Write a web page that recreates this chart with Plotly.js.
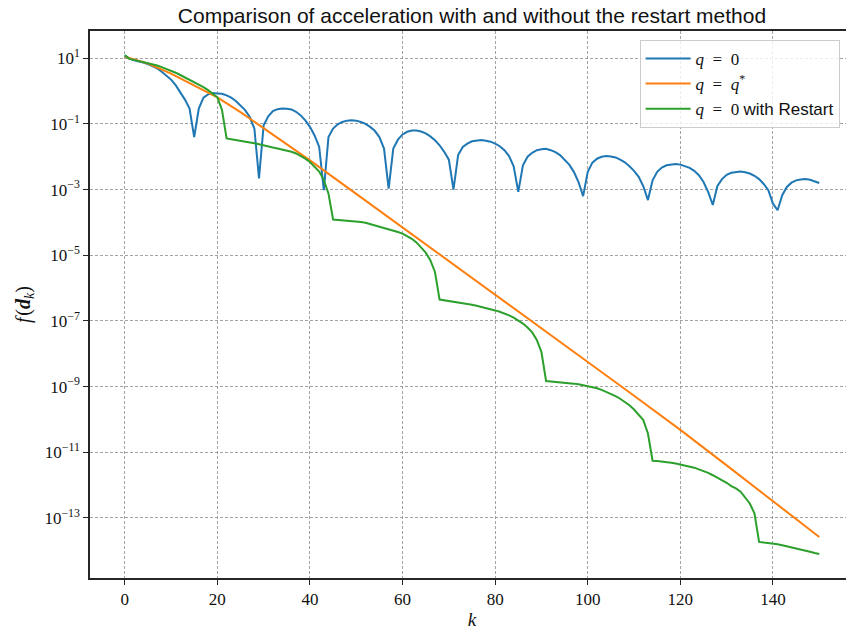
<!DOCTYPE html>
<html>
<head>
<meta charset="utf-8">
<script src="https://cdn.plot.ly/plotly-3.0.1.min.js"></script>
<style>
html,body{margin:0;padding:0;overflow:hidden;background:#fff;}
#chart{width:860px;height:630px;}
</style>
</head>
<body>
<div id="chart"></div>
<script>
// iteration index k = 0..150
const kSteps = Array.from({length: 151}, (_, i) => i);

// log10 f(d_k), q = 0
const blueLog10 = [
 1.09, 0.99, 0.94, 0.91, 0.87, 0.82, 0.76, 0.69, 0.59, 0.48,
 0.35, 0.18, -0.03, -0.26, -0.53, -1.40, -0.53, -0.20, -0.10, -0.06,
 -0.07, -0.08, -0.13, -0.20, -0.30, -0.43, -0.58, -0.79, -1.14, -2.66,
 -1.04, -0.77, -0.61, -0.55, -0.53, -0.54, -0.56, -0.63, -0.74, -0.89,
 -1.09, -1.35, -1.70, -3.02, -1.40, -1.14, -1.01, -0.94, -0.90, -0.89,
 -0.90, -0.94, -1.00, -1.09, -1.21, -1.40, -1.75, -2.97, -1.75, -1.48,
 -1.32, -1.24, -1.20, -1.20, -1.23, -1.29, -1.38, -1.50, -1.65, -1.85,
 -2.09, -3.00, -1.95, -1.70, -1.60, -1.53, -1.50, -1.49, -1.51, -1.54,
 -1.60, -1.68, -1.80, -1.98, -2.29, -3.07, -2.26, -2.00, -1.88, -1.80,
 -1.77, -1.76, -1.80, -1.86, -1.95, -2.09, -2.24, -2.46, -2.77, -3.20,
 -2.46, -2.18, -2.06, -2.00, -1.98, -1.99, -2.02, -2.09, -2.17, -2.29,
 -2.43, -2.61, -2.90, -3.32, -2.72, -2.46, -2.33, -2.26, -2.23, -2.22,
 -2.24, -2.28, -2.34, -2.43, -2.56, -2.77, -3.07, -3.47, -2.89, -2.68,
 -2.55, -2.49, -2.46, -2.45, -2.47, -2.51, -2.58, -2.68, -2.83, -3.02,
 -3.43, -3.63, -3.17, -2.92, -2.79, -2.72, -2.69, -2.68, -2.70, -2.74,
 -2.80
];

// log10 f(d_k), q = 0 with Restart
const greenLog10 = [
 1.09, 0.98, 0.95, 0.92, 0.89, 0.86, 0.82, 0.78, 0.73, 0.68,
 0.62, 0.56, 0.49, 0.42, 0.35, 0.28, 0.20, 0.12, 0.03, -0.07,
 -0.19, -0.57, -1.44, -1.47, -1.49, -1.51, -1.53, -1.56, -1.59, -1.62,
 -1.66, -1.69, -1.72, -1.75, -1.78, -1.81, -1.85, -1.90, -1.97, -2.06,
 -2.16, -2.29, -2.45, -2.71, -3.12, -3.91, -3.92, -3.93, -3.94, -3.95,
 -3.97, -3.99, -4.01, -4.05, -4.08, -4.11, -4.15, -4.19, -4.24, -4.29,
 -4.34, -4.41, -4.50, -4.61, -4.75, -4.92, -5.15, -5.51, -6.35, -6.37,
 -6.39, -6.41, -6.43, -6.45, -6.48, -6.51, -6.54, -6.57, -6.60, -6.64,
 -6.68, -6.72, -6.77, -6.83, -6.90, -6.98, -7.08, -7.20, -7.35, -7.58,
 -7.95, -8.83, -8.84, -8.85, -8.86, -8.88, -8.89, -8.91, -8.93, -8.96,
 -8.98, -9.01, -9.05, -9.10, -9.16, -9.22, -9.29, -9.37, -9.46, -9.57,
 -9.70, -9.85, -10.02, -10.43, -11.26, -11.27, -11.28, -11.30, -11.32, -11.34,
 -11.37, -11.40, -11.43, -11.47, -11.52, -11.57, -11.63, -11.70, -11.77, -11.85,
 -11.93, -12.03, -12.10, -12.20, -12.37, -12.56, -12.86, -13.73, -13.75, -13.76,
 -13.78, -13.80, -13.83, -13.86, -13.89, -13.92, -13.95, -13.99, -14.03, -14.07,
 -14.10
];

// q = q*, sampled k and log10 f(d_k)
const orangeK = [0, 5, 10, 15, 20, 25, 30, 35, 40, 50, 60, 70, 80, 90, 100, 110, 120, 130, 140, 150];
const orangeLog10 = [1.05, 0.84, 0.53, 0.18, -0.19, -0.64, -1.13, -1.62, -2.11, -3.13, -4.15, -5.18, -6.20, -7.23, -8.25, -9.28, -10.32, -11.40, -12.48, -13.58];

const xTicks = [0, 20, 40, 60, 80, 100, 120, 140];
const yTickExp = [1, -1, -3, -5, -7, -9, -11, -13];

const seriesNames = [
  '<i>q</i>&nbsp; =&nbsp; 0',
  '<i>q</i>&nbsp; =&nbsp; <i>q</i><sup>*</sup>',
  '<i>q</i>&nbsp; =&nbsp; 0 <span style="font-family:\'Liberation Sans\', sans-serif">with Restart</span>'
];
const colors = ['#1f77b4', '#ff7f0e', '#2ca02c'];

const toVal = a => a.map(v => Math.pow(10, v));

const traces = [
  {x: kSteps, y: toVal(blueLog10), name: seriesNames[0], mode: 'lines', line: {color: colors[0], width: 2}},
  {x: orangeK, y: toVal(orangeLog10), name: seriesNames[1], mode: 'lines', line: {color: colors[1], width: 2}},
  {x: kSteps, y: toVal(greenLog10), name: seriesNames[2], mode: 'lines', line: {color: colors[2], width: 2}}
];

const serif = '"Liberation Serif", "DejaVu Serif", serif';
const axisCommon = {
  showline: true, linecolor: '#262626', linewidth: 1.6, mirror: true,
  ticks: 'outside', ticklen: 5, tickwidth: 1, tickcolor: '#262626',
  showgrid: true, gridcolor: '#8c8c8c', gridwidth: 0.8, griddash: '3px,2px',
  zeroline: false, tickfont: {family: serif, size: 17, color: '#111'}
};

const layout = {
  width: 860, height: 630,
  margin: {l: 90, r: 5.5, t: 30.7, b: 52},
  paper_bgcolor: '#fff', plot_bgcolor: '#fff',
  title: {text: 'Comparison of acceleration with and without the restart method',
          font: {family: '"Liberation Sans", "DejaVu Sans", sans-serif', size: 21, color: '#111'},
          x: 0.5, xref: 'paper', y: 0.975, yref: 'container', yanchor: 'middle'},
  xaxis: Object.assign({}, axisCommon, {
    range: [-7.5, 157.5], tickmode: 'array', tickvals: xTicks, ticktext: xTicks.map(String),
    title: {text: '<i>k</i>', font: {family: serif, size: 19, color: '#111'}, standoff: 4}
  }),
  yaxis: Object.assign({}, axisCommon, {
    type: 'log', range: [-14.83, 1.83], tickmode: 'array',
    tickvals: yTickExp.map(e => Math.pow(10, e)),
    ticktext: yTickExp.map(e => '10<sup>' + (e < 0 ? '\u2212' + (-e) : e) + '</sup>'),
    title: {text: '<i>f</i>&#8202;(<b><i>d</i></b><sub><i>k</i></sub>)', font: {family: serif, size: 20, color: '#111'}, standoff: 8}
  }),
  legend: {x: 0.7194, y: 0.9836, xanchor: 'left', yanchor: 'top', itemwidth: 45,
           bgcolor: 'rgba(255,255,255,0.8)', bordercolor: '#cccccc', borderwidth: 1,
           font: {family: serif, size: 17, color: '#111'}, tracegroupgap: 0},
  showlegend: true
};

Plotly.newPlot('chart', traces, layout, {displayModeBar: false, staticPlot: true});
</script>
</body>
</html>
